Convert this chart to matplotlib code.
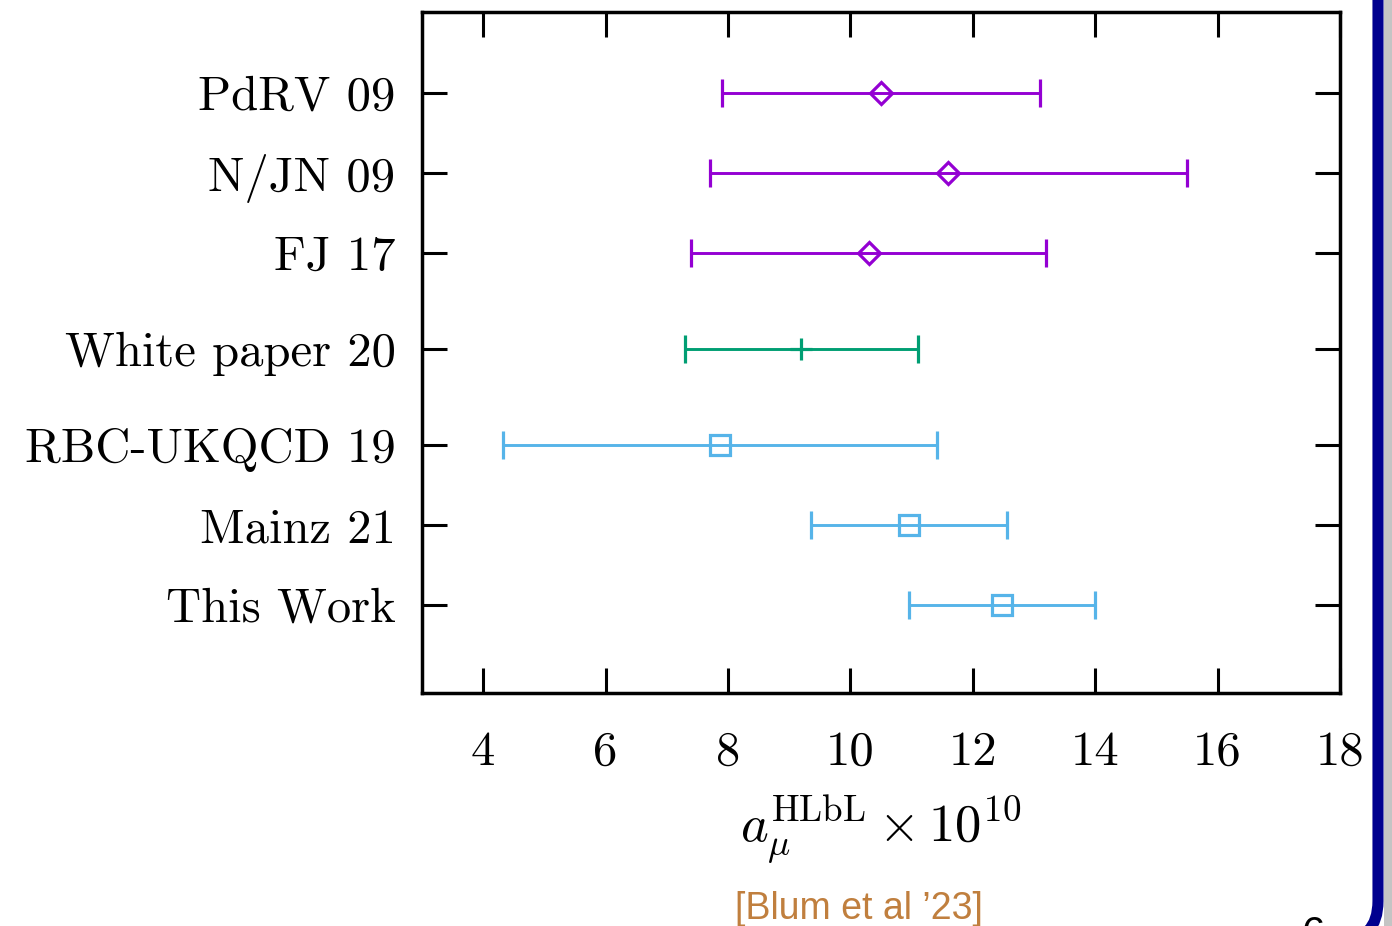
import numpy as np
import matplotlib.pyplot as plt
from matplotlib.patches import FancyBboxPatch, Rectangle

plt.rcParams['font.family'] = ['cmr10']
plt.rcParams['mathtext.fontset'] = 'cm'
plt.rcParams['axes.unicode_minus'] = False

labels = ['PdRV 09', 'N/JN 09', 'FJ 17', 'White paper 20',
          'RBC-UKQCD 19', 'Mainz 21', 'This Work']
values = [10.5, 11.6, 10.3, 9.2, 7.87, 10.96, 12.48]
errors = [2.6, 3.9, 2.9, 1.9, 3.55, 1.6, 1.52]
groups = ['pheno', 'pheno', 'pheno', 'wp', 'lat', 'lat', 'lat']

styles = {
    'pheno': dict(color='#9400d3', marker='D', ms=11),
    'wp': dict(color='#009e73', marker='+', ms=16),
    'lat': dict(color='#56b4e9', marker='s', ms=15),
}

# vertical layout: extra gap around the white paper row
ypos = [7.4, 6.4, 5.4, 4.2, 3.0, 2.0, 1.0]

fig = plt.figure(figsize=(13.92, 9.26), dpi=100)
ax = fig.add_axes([422/1392, 1 - 693/926, (1340 - 422)/1392, (693 - 12)/926])

for y, v, e, g in zip(ypos, values, errors, groups):
    st = styles[g]
    ax.errorbar(v, y, xerr=e, fmt=st['marker'], color=st['color'], ms=st['ms'],
                mfc='none', mew=2.3, elinewidth=2.1, capsize=10, capthick=2.1)

ax.set_xlim(3, 18)
ax.set_ylim(-0.1, 8.41)
ax.set_xticks([4, 6, 8, 10, 12, 14, 16, 18])
ax.set_yticks(ypos)
ax.set_yticklabels(labels)
ax.tick_params(axis='both', direction='in', length=18, width=2.2,
               top=True, right=True, labelsize=35)
ax.tick_params(axis='y', pad=19)
ax.tick_params(axis='x', pad=27)
for s in ax.spines.values():
    s.set_linewidth(2.5)

ax.set_xlabel(r'$a_\mu^{\mathrm{HLbL}} \times 10^{10}$', fontsize=38, labelpad=14)

fig.text(859/1392, 1 - 909/926, "[Blum et al \u201923]", fontsize=27,
         family='Liberation Sans', color='#c07f3e', ha='center', va='center')
fig.text(1313/1392, 1 - 935/926, '6', fontsize=30, family='Liberation Sans',
         color='black', ha='center', va='center')

# slide frame on the right
fig.patches.append(Rectangle((1384, -20), 10, 960, transform=None,
                             facecolor='#c4c4c4', edgecolor='none'))
fig.patches.append(FancyBboxPatch((-200, -15), 1578, 1000, transform=None,
                                  boxstyle='round,pad=0,rounding_size=40',
                                  facecolor='none', edgecolor='#00008f',
                                  linewidth=8))

fig.savefig('out.png', dpi=100)
